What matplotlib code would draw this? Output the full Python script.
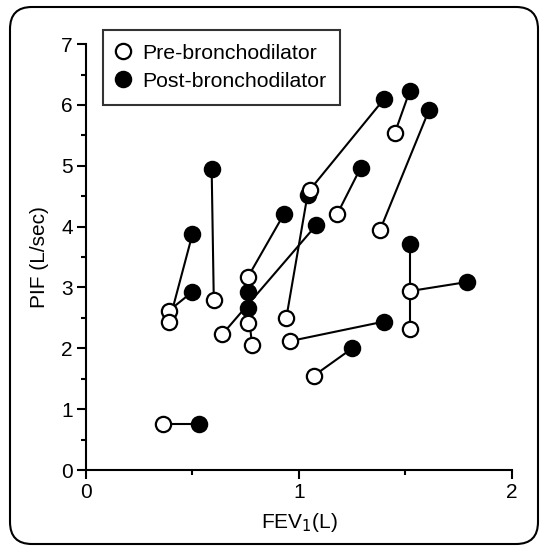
import matplotlib
matplotlib.use("Agg")
import matplotlib.pyplot as plt
from matplotlib.patches import FancyBboxPatch
from matplotlib.lines import Line2D
from matplotlib.ticker import MultipleLocator

plt.rcParams['font.family'] = ['Liberation Sans', 'DejaVu Sans']

pre_x = [0.36, 0.39, 0.39, 0.60, 0.64, 0.76, 0.76, 0.78, 0.94, 1.05, 0.96, 1.07, 1.18, 1.38, 1.45, 1.52, 1.52]
pre_y = [0.75, 2.62, 2.43, 2.79, 2.23, 3.17, 2.42, 2.05, 2.49, 4.60, 2.12, 1.55, 4.21, 3.94, 5.54, 2.94, 2.31]
post_x = [0.53, 0.50, 0.50, 0.59, 1.08, 0.93, 0.76, 0.76, 1.04, 1.40, 1.40, 1.25, 1.29, 1.61, 1.52, 1.79, 1.52]
post_y = [0.75, 2.93, 3.88, 4.95, 4.02, 4.21, 2.93, 2.67, 4.52, 6.10, 2.44, 2.00, 4.97, 5.91, 6.23, 3.09, 3.71]
legend_labels = ["Pre-bronchodilator", "Post-bronchodilator"]

fig = plt.figure(figsize=(5.46, 5.51), dpi=100)
ax = fig.add_axes([0.1575, 0.147, 0.7802, 0.773])

for x0, y0, x1, y1 in zip(pre_x, pre_y, post_x, post_y):
    ax.plot([x0, x1], [y0, y1], color='black', lw=1.5, zorder=1)

ms = 11
ax.plot(post_x, post_y, 'o', ms=ms, mfc='black', mec='black', mew=1.6, ls='none', zorder=2)
ax.plot(pre_x, pre_y, 'o', ms=ms, mfc='white', mec='black', mew=1.6, ls='none', zorder=3)

ax.set_xlim(0, 2)
ax.set_ylim(0, 7)
ax.xaxis.set_major_locator(MultipleLocator(1))
ax.xaxis.set_minor_locator(MultipleLocator(0.5))
ax.yaxis.set_major_locator(MultipleLocator(1))
ax.yaxis.set_minor_locator(MultipleLocator(0.5))
for s in ['top', 'right']:
    ax.spines[s].set_visible(False)
for s in ['left', 'bottom']:
    ax.spines[s].set_linewidth(1.5)
ax.tick_params(which='major', length=6.5, width=1.5, labelsize=15, pad=3)
ax.tick_params(which='minor', length=3.5, width=1.5)
ax.set_xlabel("FEV$_1$(L)", fontsize=15, labelpad=6)
ax.set_ylabel("PIF (L/sec)", fontsize=15, labelpad=9)

handles = [
    Line2D([], [], marker='o', ls='none', ms=ms, mfc='white', mec='black', mew=1.6),
    Line2D([], [], marker='o', ls='none', ms=ms, mfc='black', mec='black', mew=1.6),
]
leg = ax.legend(handles, legend_labels, loc='upper left',
                bbox_to_anchor=(103 / 546, 1 - 30 / 551), bbox_transform=fig.transFigure,
                fontsize=15.3, frameon=True, fancybox=False, edgecolor='black',
                handletextpad=0.65, handlelength=0.55, borderpad=0.65, labelspacing=0.42,
                borderaxespad=0)
leg.get_frame().set_linewidth(1.5)

frame = FancyBboxPatch((10 / 546, 7 / 551), 528 / 546, 537 / 551,
                       boxstyle="round,pad=0,rounding_size=0.04",
                       transform=fig.transFigure, fill=False, edgecolor='black', lw=1.5)
fig.patches.append(frame)

fig.savefig("out.png", dpi=100)
